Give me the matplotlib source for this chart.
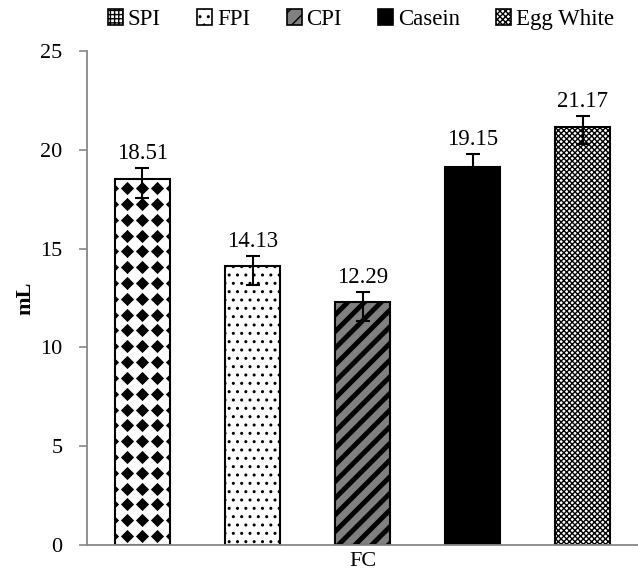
import numpy as np
import matplotlib.pyplot as plt
from matplotlib.patches import Patch

plt.rcParams['font.family'] = ['Liberation Serif', 'DejaVu Serif']
plt.rcParams['hatch.color'] = 'black'

categories = ['SPI', 'FPI', 'CPI', 'Casein', 'Egg White']
values = [18.51, 14.13, 12.29, 19.15, 21.17]
err_plus = [0.55, 0.5, 0.5, 0.65, 0.55]
err_minus = [0.95, 1.0, 0.95, 0.95, 0.9]
facecolors = ['white', 'white', '#808080', 'black', 'white']
hatches = ['', '..', '//', '', 'xxxxxx']
yticks = [0, 5, 10, 15, 20, 25]

fig = plt.figure(figsize=(6.38, 5.79), dpi=100)
ax = fig.add_axes([0.137, 0.059, 0.863, 0.853])

x = np.arange(len(categories))
bars = ax.bar(x, values, width=0.5, color=facecolors, edgecolor='black',
              linewidth=1.5, hatch=hatches, zorder=2)
bars[2].set_hatch_linewidth(3.5)

# SPI pattern: black diamonds on white, clipped to the bar
b = bars[0]
gx = np.arange(b.get_x() - 0.03, b.get_x() + b.get_width() + 0.1, 0.136)
gy = np.arange(0.45, values[0] + 0.8, 0.8)
GX, GY = np.meshgrid(gx, gy)
dia = ax.scatter(GX.ravel(), GY.ravel(), marker='D', s=45, color='black',
                 linewidths=0, zorder=3)
dia.set_clip_path(b)

ax.errorbar(x, values, yerr=[err_minus, err_plus], fmt='none', ecolor='black',
            elinewidth=1.5, capsize=5, capthick=1.5, zorder=4)

for xi, v, ep in zip(x, values, err_plus):
    ax.text(xi, v + ep + 0.2, f'{v:.2f}', ha='center', va='bottom', fontsize=16.5)

ax.set_xlim(-0.5, 4.5)
ax.set_ylim(0, 25)
ax.set_yticks(yticks)
ax.set_xticks([])
ax.tick_params(axis='y', labelsize=16, color='#888888', length=6, width=1.2, pad=12)
for s in ['top', 'right']:
    ax.spines[s].set_visible(False)
for s in ['left', 'bottom']:
    ax.spines[s].set_color('#888888')
    ax.spines[s].set_linewidth(1.3)

ax.set_ylabel('mL', fontsize=16, fontweight='bold')
ax.yaxis.set_label_coords(-0.095, 0.5)
ax.text(0.5, -0.014, 'FC', transform=ax.transAxes, ha='center', va='top', fontsize=16)

handles = []
for fc, h in zip(facecolors, hatches):
    handles.append(Patch(facecolor=fc, edgecolor='black', hatch=h, linewidth=1.2))
handles[0] = Patch(facecolor='white', edgecolor='black', hatch='++++', linewidth=1.2)
fig.legend(handles, categories, loc='upper center', bbox_to_anchor=(0.566, 1.02),
           ncol=5, frameon=False, fontsize=16.5, handlelength=0.65, handleheight=0.65,
           handletextpad=0.2, columnspacing=1.6)

fig.savefig('out.png', dpi=100)
